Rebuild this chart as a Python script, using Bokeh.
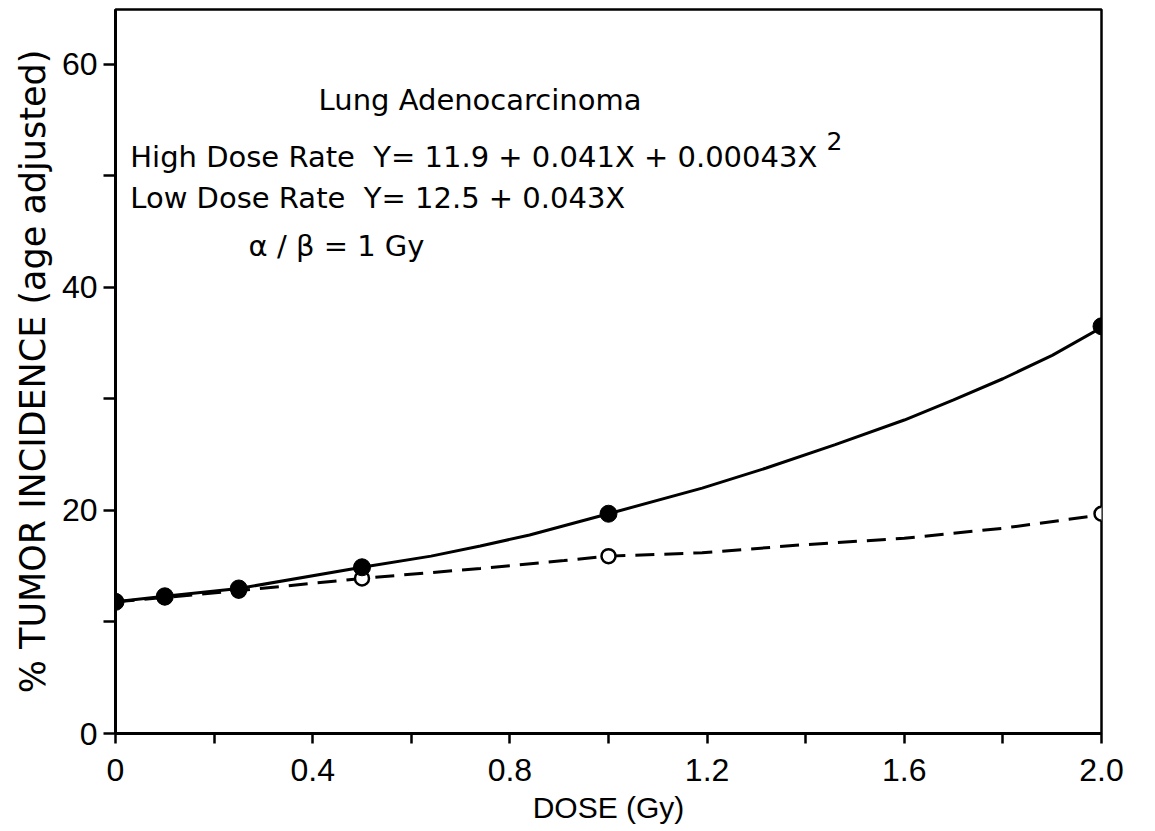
from bokeh.plotting import figure
from bokeh.models import Range1d, FixedTicker, Label
from bokeh.embed import file_html
from bokeh.resources import INLINE

# Data points (dose in Gy, % tumor incidence)
dose_pts = [0.0, 0.1, 0.25, 0.5, 1.0, 2.0]
high_rate = [11.8, 12.3, 13.0, 14.9, 19.7, 36.5]
low_rate = [11.8, 12.2, 12.8, 13.9, 15.9, 19.7]

# Fitted curves
high_curve_x = [0.0, 0.1, 0.25, 0.5, 0.64, 0.74, 0.84, 1.0, 1.19, 1.32, 1.46, 1.6, 1.7, 1.8, 1.9, 2.0]
high_curve_y = [11.8, 12.3, 13.0, 14.9, 15.9, 16.8, 17.8, 19.7, 22.0, 23.8, 25.9, 28.1, 29.9, 31.8, 33.9, 36.4]
low_curve_x = [0.0, 0.1, 0.25, 0.5, 0.74, 0.91, 1.0, 1.19, 1.39, 1.6, 1.8, 2.0]
low_curve_y = [11.8, 12.2, 12.8, 13.9, 14.8, 15.5, 15.9, 16.2, 16.9, 17.5, 18.4, 19.6]

x_ticks = [0, 0.4, 0.8, 1.2, 1.6, 2.0]
x_minor = [0.2, 0.6, 1.0, 1.4, 1.8]
y_ticks = [0, 20, 40, 60]
y_minor = [10, 30, 50]

FONT = "Liberation Sans"
WIDE = "DejaVu Sans"
NB = "\u00a0"

p = figure(frame_width=986, frame_height=724, output_backend="svg",
           toolbar_location=None,
           x_range=Range1d(0, 2.0), y_range=Range1d(0, 64.9),
           min_border_left=115, min_border_top=9, min_border_right=40,
           min_border_bottom=90)

p.grid.visible = False
p.background_fill_color = "white"
p.border_fill_color = "white"
p.outline_line_color = "black"
p.outline_line_width = 2.5

for ax in (p.xaxis[0], p.yaxis[0]):
    ax.axis_line_width = 3
    ax.axis_line_color = "black"
    ax.major_tick_line_width = 2.5
    ax.minor_tick_line_width = 2.5
    ax.major_tick_in = 0
    ax.minor_tick_in = 0
    ax.major_label_text_font = FONT
    ax.major_label_text_font_size = "32px"
    ax.major_label_text_color = "black"
    ax.axis_label_text_font_style = "normal"
    ax.axis_label_text_color = "black"

p.xaxis.axis_label_text_font = FONT
p.xaxis.axis_label_text_font_size = "30px"
p.yaxis.axis_label_text_font = WIDE
p.yaxis.axis_label_text_font_size = "35px"

p.xaxis.ticker = FixedTicker(ticks=x_ticks, minor_ticks=x_minor)
p.yaxis.ticker = FixedTicker(ticks=y_ticks, minor_ticks=y_minor)
p.xaxis.major_tick_out = 10
p.xaxis.minor_tick_out = 10
p.yaxis.major_tick_out = 12
p.yaxis.minor_tick_out = 12
p.xaxis.major_label_overrides = {0: "0", 0.4: "0.4", 0.8: "0.8", 1.2: "1.2", 1.6: "1.6", 2.0: "2.0"}
p.xaxis.major_label_standoff = 15
p.yaxis.major_label_standoff = 6
p.xaxis.axis_label = "DOSE (Gy)"
p.yaxis.axis_label = "% TUMOR INCIDENCE (age adjusted)"
p.xaxis.axis_label_standoff = 7
p.yaxis.axis_label_standoff = 6

p.line(high_curve_x, high_curve_y, line_color="black", line_width=3)
p.line(low_curve_x, low_curve_y, line_color="black", line_width=3, line_dash="19 10")

p.scatter(dose_pts, low_rate, marker="circle", size=14, fill_color="white",
          line_color="black", line_width=2.5)
p.scatter(dose_pts, high_rate, marker="circle", size=17, fill_color="black",
          line_color="black")

texts = [
    ("Lung" + NB + "Adenocarcinoma", 0.412, 56.8, "29px"),
    ("High Dose Rate" + NB + NB + "Y= 11.9 + 0.041X + 0.00043X", 0.030, 51.7, "29px"),
    ("Low Dose Rate" + NB + NB + "Y= 12.5 + 0.043X", 0.030, 48.0, "29px"),
    ("\u03b1 / \u03b2 = 1 Gy", 0.270, 43.7, "29px"),
]
for t, x, y, fs in texts:
    p.add_layout(Label(x=x, y=y, text=t, text_font=WIDE, text_font_size=fs,
                       text_color="black", text_baseline="alphabetic"))
p.add_layout(Label(x=1.442, y=53.1, text="2", text_font=WIDE, text_font_size="25px",
                   text_color="black", text_baseline="alphabetic"))

open("out.html", "w").write(file_html(p, INLINE))
